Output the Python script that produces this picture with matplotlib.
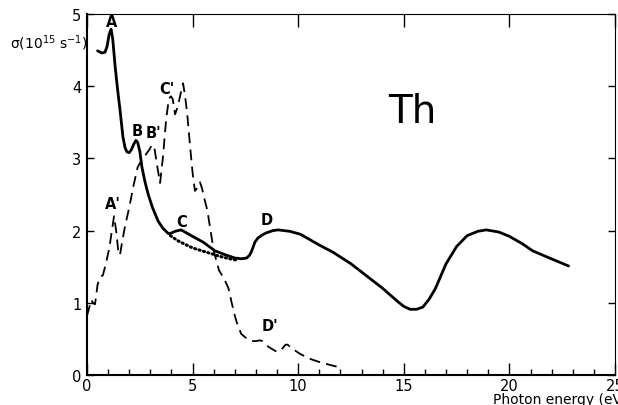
import matplotlib
matplotlib.use('Agg')
import matplotlib.pyplot as plt
from matplotlib.ticker import MultipleLocator

# solid curve (sigma of Th)
sol_x = [0.5, 0.7, 0.85, 0.95, 1.05, 1.14, 1.22, 1.33, 1.45, 1.56, 1.7, 1.8, 1.89, 2.0, 2.1, 2.22, 2.32, 2.4,
         2.5, 2.6, 2.75, 2.9, 3.1, 3.37, 3.6, 3.85, 3.95, 4.17, 4.45, 4.64, 5.0, 5.5, 6.06, 6.5, 7.0, 7.3, 7.56,
         7.7, 7.8, 7.95, 8.1, 8.3, 8.5, 8.8, 9.05, 9.6, 10.1, 11.0, 11.65, 12.5, 13.25, 14.0, 14.7, 15.0, 15.3,
         15.6, 15.9, 16.2, 16.5, 17.0, 17.5, 18.0, 18.5, 18.9, 19.5, 20.0, 20.6, 21.1, 21.9, 22.8]
sol_y = [4.49, 4.46, 4.47, 4.55, 4.72, 4.79, 4.65, 4.28, 3.95, 3.68, 3.3, 3.15, 3.09, 3.08, 3.12, 3.2, 3.25, 3.22,
         3.1, 2.88, 2.67, 2.5, 2.32, 2.13, 2.03, 1.96, 1.96, 1.99, 2.01, 1.98, 1.92, 1.84, 1.72, 1.67, 1.62, 1.61,
         1.62, 1.66, 1.72, 1.84, 1.9, 1.94, 1.97, 2.0, 2.01, 1.99, 1.95, 1.8, 1.7, 1.54, 1.37, 1.2, 1.02, 0.95, 0.91,
         0.91, 0.94, 1.05, 1.2, 1.54, 1.78, 1.93, 1.99, 2.01, 1.98, 1.92, 1.82, 1.72, 1.62, 1.51]

# dotted background curve
dot_x = [3.95, 4.3, 4.64, 5.0, 5.44, 5.9, 6.2, 6.6, 7.1]
dot_y = [1.93, 1.86, 1.81, 1.76, 1.72, 1.68, 1.65, 1.62, 1.59]

# dashed curve
das_x = [0.0, 0.12, 0.2, 0.28, 0.38, 0.5, 0.6, 0.68, 0.75, 0.9, 1.05, 1.18, 1.28, 1.38, 1.48, 1.56, 1.65, 1.8,
         2.0, 2.2, 2.4, 2.6, 2.8, 2.95, 3.08, 3.2, 3.32, 3.46, 3.6, 3.75, 3.88, 3.98, 4.06, 4.17, 4.3, 4.42, 4.55,
         4.65, 4.75, 4.88, 5.0, 5.11, 5.25, 5.35, 5.45, 5.55, 5.7, 5.85, 6.0, 6.25, 6.5, 6.7, 6.85, 7.0, 7.1, 7.3,
         7.5, 7.8, 8.0, 8.2, 8.3, 8.5, 8.7, 9.0, 9.2, 9.4, 9.5, 9.7, 10.1, 10.6, 11.0, 11.5, 11.9]
das_y = [0.82, 0.95, 1.04, 1.0, 0.98, 1.25, 1.35, 1.37, 1.38, 1.55, 1.75, 2.0, 2.2, 2.0, 1.72, 1.66, 1.82, 2.06,
         2.32, 2.62, 2.88, 2.98, 3.06, 3.12, 3.19, 3.13, 2.9, 2.66, 3.03, 3.55, 3.83, 3.86, 3.82, 3.61, 3.72, 3.88,
         4.04, 3.85, 3.6, 3.17, 2.8, 2.55, 2.6, 2.67, 2.58, 2.45, 2.28, 2.0, 1.72, 1.45, 1.33, 1.2, 1.0, 0.82, 0.72,
         0.57, 0.52, 0.47, 0.47, 0.48, 0.47, 0.41, 0.37, 0.32, 0.35, 0.42, 0.42, 0.37, 0.29, 0.22, 0.18, 0.14, 0.11]

# peak labels
lab_txt = ['A', 'B', "B'", "C'", "A'", 'C', 'D', "D'"]
lab_x = [1.18, 2.38, 3.13, 3.78, 1.24, 4.5, 8.52, 8.67]
lab_y = [4.89, 3.39, 3.36, 3.97, 2.37, 2.13, 2.16, 0.68]

plt.rcParams['mathtext.default'] = 'regular'

fig = plt.figure(figsize=(6.18, 4.06), dpi=100)
ax = fig.add_axes([87 / 618, 30 / 406, 528 / 618, 361 / 406])

ax.plot(sol_x, sol_y, color='black', lw=2.0, solid_capstyle='round')
ax.plot(dot_x, dot_y, color='black', lw=2.2, linestyle=(0, (0.4, 1.1)), dash_capstyle='round')
ax.plot(das_x, das_y, color='black', lw=1.3, linestyle=(0, (6, 3.5)))

for t, x, y in zip(lab_txt, lab_x, lab_y):
    ax.text(x, y, t, ha='center', va='center', fontsize=10.5, fontweight='bold')

ax.text(15.4, 3.66, 'Th', ha='center', va='center', fontsize=28)

ax.set_xlim(0, 25)
ax.set_ylim(0, 5)
ax.xaxis.set_major_locator(MultipleLocator(5))
ax.xaxis.set_minor_locator(MultipleLocator(1))
ax.yaxis.set_major_locator(MultipleLocator(1))

ax.tick_params(axis='x', which='major', direction='in', length=9, width=1, top=True, labelsize=10.5, pad=2)
ax.tick_params(axis='x', which='minor', direction='in', length=4, width=1, top=False)
ax.tick_params(axis='y', which='major', direction='in', length=5, width=1, right=True, labelsize=10.5, pad=4)

for s in ['left', 'bottom']:
    ax.spines[s].set_linewidth(1.5)
for s in ['top', 'right']:
    ax.spines[s].set_linewidth(0.8)

fig.text(10 / 618, 1 - 43 / 406, r'$\sigma(10^{15}\ s^{-1})$', fontsize=10, va='center', ha='left')
fig.text(493 / 618, 1 - 400 / 406, 'Photon energy (eV)', fontsize=10, va='center', ha='left')

fig.savefig('out.png', dpi=100)
